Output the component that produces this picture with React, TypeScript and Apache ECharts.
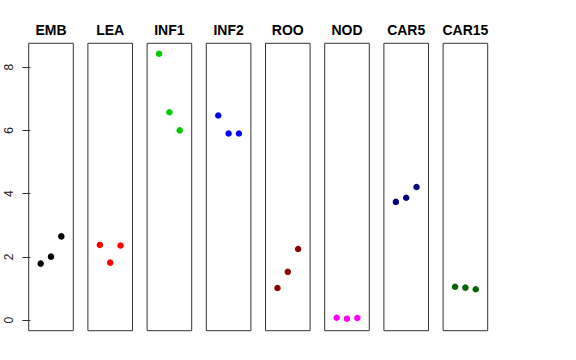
import React, { useEffect, useRef } from "react";
import * as echarts from "echarts";

const categories = ["EMB", "LEA", "INF1", "INF2", "ROO", "NOD", "CAR5", "CAR15"];
const colors = ["#000000", "#FF0000", "#00CD00", "#0000FF", "#8B0000", "#FF00FF", "#000080", "#006400"];
const values: number[][] = [
  [1.79, 2.01, 2.65],
  [2.38, 1.82, 2.36],
  [8.42, 6.57, 6.0],
  [6.47, 5.9, 5.9],
  [1.02, 1.53, 2.25],
  [0.08, 0.05, 0.07],
  [3.74, 3.87, 4.21],
  [1.06, 1.03, 0.98],
];
const positions = [1, 2, 3];
const yTicks = [0, 2, 4, 6, 8];
const yMin = -0.33;
const yMax = 8.75;
const xMin = -0.16;
const xMax = 4.16;

export default function App() {
  const ref = useRef<HTMLDivElement>(null);
  useEffect(() => {
    if (!ref.current) return;
    const chart = echarts.init(ref.current, null, { renderer: "svg" });
    const left0 = 28.7;
    const step = 59.2;
    const w = 44.6;
    const top = 43.3;
    const h = 287.4;
    const grids = categories.map((_, i) => ({
      left: left0 + step * i,
      top,
      width: w,
      height: h,
      show: true,
      borderColor: "#333",
      borderWidth: 1,
      backgroundColor: "transparent",
    }));
    const xAxes = categories.map((_, i) => ({
      type: "value",
      gridIndex: i,
      min: xMin,
      max: xMax,
      show: false,
    }));
    const yAxes = categories.map((_, i) => ({
      type: "value",
      gridIndex: i,
      min: yMin,
      max: yMax,
      show: i === 0,
      splitLine: { show: false },
      axisLine: { show: false },
      axisTick: {
        show: true,
        length: 8,
        customValues: yTicks,
        lineStyle: { color: "#333", width: 1 },
      },
      axisLabel: {
        show: true,
        customValues: yTicks,
        rotate: 90,
        margin: 14,
        color: "#222",
        fontSize: 12,
        fontFamily: "Liberation Sans, Arial, sans-serif",
      },
    }));
    const series = categories.map((_, i) => ({
      type: "scatter",
      xAxisIndex: i,
      yAxisIndex: i,
      symbol: "circle",
      symbolSize: 6.5,
      itemStyle: { color: colors[i], opacity: 1 },
      data: values[i].map((v, j) => [positions[j], v]),
    }));
    const graphic = categories.map((c, i) => ({
      type: "text",
      x: left0 + step * i + w / 2,
      y: 30,
      style: {
        text: c,
        align: "center",
        verticalAlign: "middle",
        font: "bold 14px 'Liberation Sans', Arial, sans-serif",
        fill: "#000",
      },
    }));
    chart.setOption({
      animation: false,
      backgroundColor: "#fff",
      grid: grids,
      xAxis: xAxes,
      yAxis: yAxes,
      series,
      graphic,
    } as any);
    return () => chart.dispose();
  }, []);
  return (
    <div
      ref={ref}
      style={{ position: "fixed", left: 0, top: 0, width: 576, height: 360 }}
    />
  );
}
